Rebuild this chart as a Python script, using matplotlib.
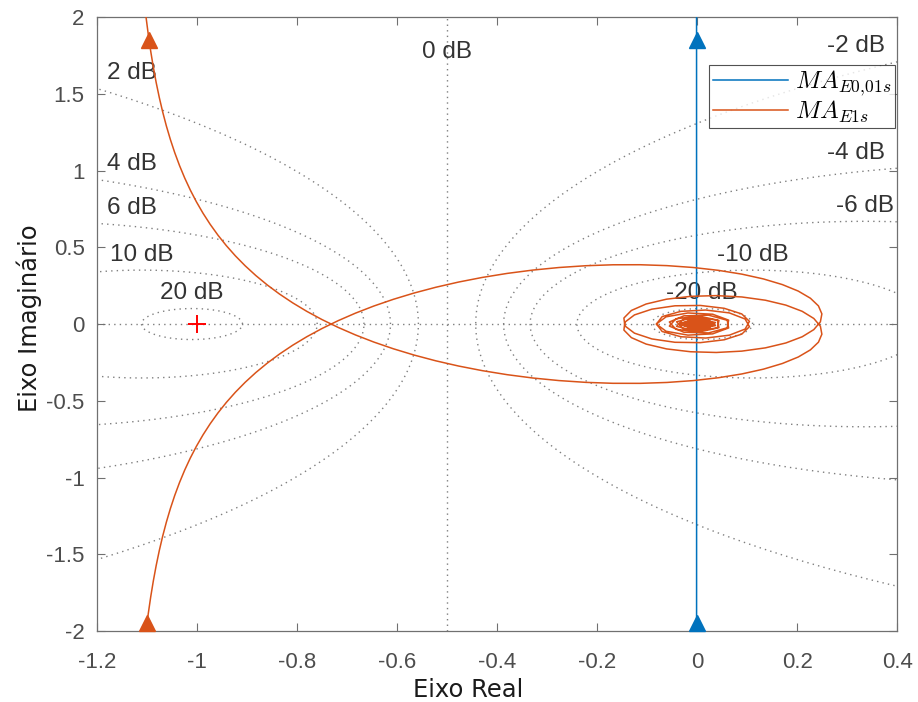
import numpy as np
import matplotlib
matplotlib.use("Agg")
import matplotlib.pyplot as plt

# ---- data -------------------------------------------------------------
# M-circle levels (dB) of the Nyquist grid
db_levels = [20, 10, 6, 4, 2, 0, -2, -4, -6, -10, -20]

# open-loop models  G(s) = K * exp(-T s) / s
gain_fast = 0.1
delay_fast = 0.01
gain_slow = 1.15
delay_slow = 1.0

series_labels = [r"$MA_{E0{,}01s}$", r"$MA_{E1s}$"]
series_colors = ["#0072BD", "#D95319"]

xticks = [-1.2, -1.0, -0.8, -0.6, -0.4, -0.2, 0.0, 0.2, 0.4]
yticks = [-2, -1.5, -1, -0.5, 0, 0.5, 1, 1.5, 2]
xlim = (-1.2, 0.4)
ylim = (-2.0, 2.0)

critical_point = (-1.0, 0.0)


def freq_response(k, t, w):
    s = 1j * w
    return k * np.exp(-t * s) / s


plt.rcParams["mathtext.fontset"] = "cm"

# ---- figure -----------------------------------------------------------
fig = plt.figure(figsize=(9.18, 7.02), dpi=100)
ax = fig.add_axes([0.1057, 0.1011, 0.8715, 0.8746])
ax.set_xlim(*xlim)
ax.set_ylim(*ylim)

grid_kw = dict(color="#7f7f7f", linestyle=(0, (1, 3)), linewidth=1.0, zorder=1)
label_kw = dict(fontsize=17.5, color="#333333", family="Liberation Sans",
                zorder=2)

phi = np.linspace(0, 2 * np.pi, 721)
for db in db_levels:
    text = f"{db} dB"
    if db == 0:
        ax.axvline(-0.5, **grid_kw)
        ax.text(-0.5, 1.70, text, ha="center", va="bottom", **label_kw)
        continue
    m = 10 ** (db / 20)
    c = m ** 2 / (1 - m ** 2)
    r = abs(m / (1 - m ** 2))
    ax.plot(c + r * np.cos(phi), r * np.sin(phi), **grid_kw)
    if xlim[0] < c < xlim[1]:
        ax.text(c, r + 0.03, text, ha="center", va="bottom", **label_kw)
    elif c <= xlim[0]:
        yy = np.sqrt(max(r ** 2 - (xlim[0] - c) ** 2, 0))
        ax.text(xlim[0] + 0.02, yy + 0.03, text, ha="left", va="bottom",
                **label_kw)
    else:
        yy = np.sqrt(max(r ** 2 - (xlim[1] - c) ** 2, 0))
        ax.text(xlim[1] - 0.025, yy + 0.03, text, ha="right", va="bottom",
                **label_kw)
ax.axhline(0, **grid_kw)

# Nyquist curves: negative-frequency branch, gap at w = 0, positive branch
w = np.logspace(-3, 2, 260)
handles = []
for (k, t), col, lab in zip([(gain_fast, delay_fast), (gain_slow, delay_slow)],
                            series_colors, series_labels):
    g = freq_response(k, t, w)
    re = np.concatenate([g.real[::-1], [np.nan], g.real])
    im = np.concatenate([-g.imag[::-1], [np.nan], g.imag])
    h, = ax.plot(re, im, color=col, linewidth=1.1, zorder=3, label=lab)
    handles.append(h)
    # direction arrows on both branches, placed where the branch reaches
    # the given imaginary level (low-frequency part, monotonic in w)
    low = w < 1.0
    for y_arrow in (1.85, -1.95):
        # both branches share |Im|; take the conjugate for the upper one
        im_low = g.imag[low] if y_arrow < 0 else -g.imag[low]
        order = np.argsort(im_low)
        x_arrow = np.interp(y_arrow, im_low[order], g.real[low][order])
        ax.plot(x_arrow, y_arrow, marker="^", markersize=12,
                color=col, markeredgecolor=col, zorder=4, clip_on=False)

ax.plot(*critical_point, marker="+", color="red", markersize=13,
        markeredgewidth=1.4, zorder=5)

# ---- axes styling -----------------------------------------------------
ax.set_xticks(xticks)
ax.set_yticks(yticks)
ax.set_xticklabels([f"{v:g}" for v in xticks])
ax.set_yticklabels([f"{v:g}" for v in yticks])
ax.tick_params(direction="in", length=6, width=0.8, colors="#707070",
               labelsize=16, top=True, right=True)
ax.tick_params(axis="x", pad=15)
ax.tick_params(axis="y", pad=9)
for lbl in ax.get_xticklabels() + ax.get_yticklabels():
    lbl.set_family("Liberation Sans")
    lbl.set_color("#4d4d4d")
for sp in ax.spines.values():
    sp.set_color("#707070")
    sp.set_linewidth(0.9)

ax.set_xlabel("Eixo Real", fontsize=17.5, family="DejaVu Sans",
              color="#1a1a1a")
ax.set_ylabel("Eixo Imaginário", fontsize=17.5, family="DejaVu Sans",
              color="#1a1a1a")
ax.xaxis.set_label_coords(0.464, -0.076)
ax.yaxis.set_label_coords(-0.069, 0.51)

leg = ax.legend(handles=handles, loc="upper right",
                bbox_to_anchor=(0.998, 0.922), borderaxespad=0,
                fontsize=18, frameon=True, fancybox=False, handlelength=3.0,
                handletextpad=0.3, borderpad=0.15, labelspacing=0.0)
leg.get_frame().set_edgecolor("#262626")
leg.get_frame().set_linewidth(0.8)

fig.savefig("out.png", dpi=100)
